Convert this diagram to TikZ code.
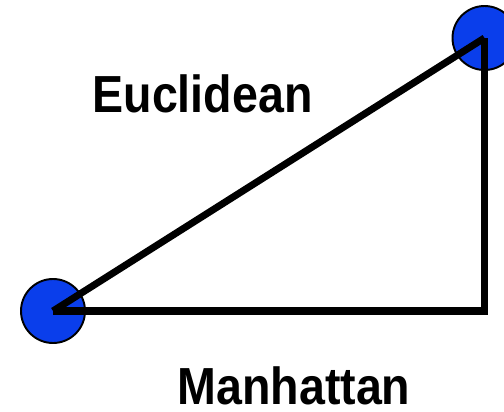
\documentclass[tikz,border=0pt]{standalone}
\usepackage{fontspec}
\setmainfont{Liberation Sans}
\definecolor{dotblue}{RGB}{10,62,235}
\newcommand{\tall}[1]{\scalebox{1}[1.12]{#1}}

\begin{document}
\begin{tikzpicture}[font=\bfseries\fontsize{26.5}{30}\selectfont,
  dot/.style={circle, draw=black, line width=1.1pt, fill=dotblue, minimum size=1.28cm, inner sep=0pt},
  edge/.style={line width=4pt},
  lbl/.style={anchor=base, inner sep=0pt}]
  \useasboundingbox (0,0) rectangle (10.08,8.22);
  % the two points
  \node[dot] (p) at (1.06,2.0) {};
  \node[dot] (q) at (9.69,7.46) {};
  \coordinate (corner) at (9.69,2.0);
  % straight-line distance
  \draw[edge] (p.center) -- (q.center);
  % city-block distance, along the two legs
  \draw[edge, line join=miter] (p.center) -- (corner) -- (q.center);
  \node[lbl] (eu) at (4.05,5.98) {\tall{Euclidean}};
  \node[lbl] (mh) at (5.88,0.13) {\tall{Manhattan}};
\end{tikzpicture}
\end{document}
